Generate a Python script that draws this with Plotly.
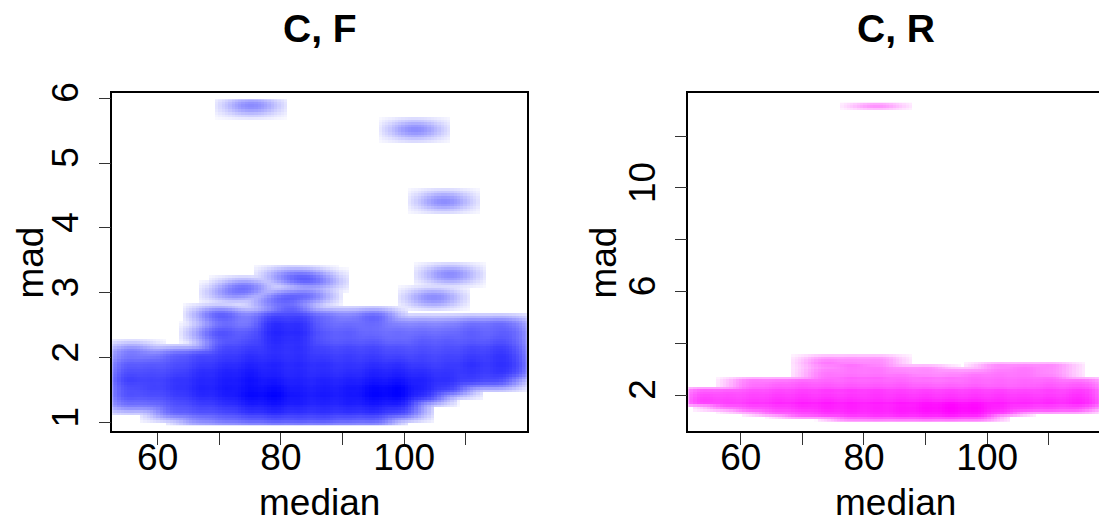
import numpy as np
import plotly.graph_objects as go

# ---------------- Panel 1: "C, F" (median vs mad), binned counts ----------------
cf_bin_x = [55.2, 59, 63, 67, 71, 75, 79, 83, 87, 91, 95, 99, 103, 107, 111, 115, 117.4]
cf_bin_y = [1.06, 1.18, 1.30, 1.42, 1.54, 1.66, 1.78, 1.90, 2.02, 2.14, 2.26, 2.38, 2.50, 2.62]
cf_counts = [
    [0, 0, 0, 1, 2, 3, 4, 4, 4, 3, 3, 0, 0, 0, 0, 0, 0],
    [0, 0, 3, 4, 5, 8, 10, 8, 8, 8, 9, 6, 0, 0, 0, 0, 0],
    [2, 2, 4, 6, 8, 12, 14, 11, 10, 11, 13, 12, 0, 0, 0, 0, 0],
    [4, 4, 6, 9, 11, 16, 18, 12, 12, 12, 17, 18, 8, 0, 0, 0, 0],
    [4, 5, 7, 10, 12, 14, 15, 11, 11, 12, 16, 18, 10, 6, 0, 0, 0],
    [6, 5, 7, 9, 11, 14, 12, 10, 10, 10, 12, 13, 10, 8, 6, 5, 0],
    [4, 4, 5, 8, 10, 12, 10, 9, 8, 8, 10, 10, 8, 7, 7, 6, 4],
    [3, 3, 4, 6, 8, 10, 10, 9, 8, 7, 8, 8, 6, 6, 8, 6, 5],
    [1, 1, 3, 5, 6, 8, 8, 8, 6, 6, 6, 5, 5, 5, 6, 6, 4],
    [0, 0, 0, 0, 5, 6, 8, 8, 5, 5, 5, 4, 4, 4, 5, 5, 3],
    [0, 0, 0, 0, 3, 4, 9, 8, 3, 3, 3, 2, 3, 3, 3, 3, 2],
    [0, 0, 0, 0, 3, 3, 10, 9, 3, 3, 2, 2, 2, 2, 3, 2, 2],
    [0, 0, 0, 0, 2, 1, 9, 8, 2, 2, 2, 1, 1, 1, 2, 2, 1],
    [0, 0, 0, 0, 2, 1, 6, 6, 2, 1, 3, 0, 0, 0, 0, 0, 0],
]
cf_extra_x = [75.2, 101.8, 106.5, 107.4, 104.8, 55.8, 74.0, 72.5, 83.7, 81.5, 85.5, 81.0, 79.0, 84.0, 81.5, 70.0, 69.5]
cf_extra_y = [5.88, 5.51, 4.41, 3.28, 2.92, 2.09, 3.07, 3.00, 3.22, 3.25, 3.18, 2.91, 2.85, 2.95, 2.75, 2.66, 2.37]
cf_extra_n = [1, 1, 1, 1, 1, 1, 2, 1, 3, 1, 1, 3, 1, 2, 3, 2, 2]

# ---------------- Panel 2: "C, R" (median vs mad), binned counts ----------------
cr_bin_x = [54, 58, 62, 66, 70, 74, 78, 82, 86, 90, 94, 98, 102, 106, 110, 114, 116.3]
cr_bin_y = [1.08, 1.20, 1.32, 1.44, 1.56, 1.68, 1.80, 1.92, 2.04, 2.16, 2.28, 2.40,
            2.52, 2.64, 2.76, 2.88, 3.00, 3.12, 3.24, 3.36]
cr_counts = [
    [0, 0, 0, 0, 0, 0, 3, 4, 4, 5, 5, 4, 0, 0, 0, 0, 0],
    [0, 0, 0, 0, 3, 5, 7, 8, 9, 10, 12, 10, 0, 0, 0, 0, 0],
    [0, 0, 0, 4, 6, 10, 12, 12, 14, 16, 20, 18, 8, 0, 0, 0, 0],
    [0, 0, 4, 7, 10, 14, 14, 14, 16, 20, 24, 22, 12, 7, 6, 5, 0],
    [0, 5, 7, 9, 12, 14, 14, 13, 14, 18, 22, 20, 13, 9, 8, 7, 4],
    [6, 6, 8, 10, 12, 13, 12, 12, 13, 14, 16, 15, 12, 10, 10, 9, 6],
    [8, 7, 8, 10, 11, 12, 11, 11, 11, 12, 12, 12, 11, 10, 11, 10, 7],
    [7, 6, 7, 9, 10, 10, 10, 10, 10, 10, 10, 10, 10, 9, 9, 9, 6],
    [5, 5, 6, 7, 8, 8, 8, 9, 8, 8, 8, 8, 8, 7, 7, 7, 5],
    [3, 3, 4, 5, 6, 7, 7, 7, 6, 6, 6, 6, 6, 5, 6, 5, 4],
    [0, 0, 3, 4, 5, 5, 5, 5, 5, 4, 4, 5, 4, 4, 5, 4, 3],
    [0, 0, 2, 3, 4, 4, 4, 4, 4, 3, 3, 3, 3, 3, 4, 3, 2],
    [0, 0, 2, 2, 3, 3, 3, 3, 3, 2, 2, 3, 3, 3, 3, 2, 1],
    [0, 0, 0, 0, 0, 2, 3, 3, 2, 2, 2, 2, 2, 2, 2, 0, 0],
    [0, 0, 0, 0, 0, 2, 2, 2, 2, 1, 1, 2, 2, 2, 1, 0, 0],
    [0, 0, 0, 0, 0, 2, 2, 2, 1, 1, 1, 1, 2, 2, 1, 0, 0],
    [0, 0, 0, 0, 0, 1, 2, 2, 1, 1, 0, 0, 1, 2, 1, 0, 0],
    [0, 0, 0, 0, 0, 1, 2, 1, 0, 0, 0, 0, 1, 1, 1, 0, 0],
    [0, 0, 0, 0, 0, 2, 1, 1, 0, 0, 0, 0, 0, 0, 0, 0, 0],
    [0, 0, 0, 0, 0, 1, 1, 1, 0, 0, 0, 0, 0, 0, 0, 0, 0],
]
cr_extra_x = [82.0]
cr_extra_y = [13.17]
cr_extra_n = [1]

# tick labels
x_tickvals = [60, 70, 80, 90, 100, 110]
x_ticktext = ["60", "", "80", "", "100", ""]
cf_y_tickvals = [1, 2, 3, 4, 5, 6]
cf_y_ticktext = ["1", "2", "3", "4", "5", "6"]
cr_y_tickvals = [2, 4, 6, 8, 10, 12]
cr_y_ticktext = ["2", "", "6", "", "10", ""]


def expand(bx, by, counts, ex, ey, en):
    xs, ys, ws = [], [], []
    for i, row in enumerate(counts):
        for j, c in enumerate(row):
            if c > 0:
                xs.append(bx[j]); ys.append(by[i]); ws.append(c)
    xs += list(ex); ys += list(ey); ws += list(en)
    return np.array(xs, float), np.array(ys, float), np.array(ws, float)


def smooth_density(px, py, pw, bw, n=128, tau=3.4):
    """Binned 2D kernel density (linear binning + truncated gaussian), like bkde2D."""
    ax0, ax1 = px.min() - 1.5 * bw[0], px.max() + 1.5 * bw[0]
    ay0, ay1 = py.min() - 1.5 * bw[1], py.max() + 1.5 * bw[1]
    gx = np.linspace(ax0, ax1, n)
    gy = np.linspace(ay0, ay1, n)
    dx, dy = gx[1] - gx[0], gy[1] - gy[0]
    grid = np.zeros((n, n))
    fx = (px - ax0) / dx
    fy = (py - ay0) / dy
    ix = np.floor(fx).astype(int)
    iy = np.floor(fy).astype(int)
    rx = fx - ix
    ry = fy - iy
    for k in range(len(px)):
        for a, wa in ((ix[k], 1 - rx[k]), (ix[k] + 1, rx[k])):
            for b, wb in ((iy[k], 1 - ry[k]), (iy[k] + 1, ry[k])):
                if 0 <= a < n and 0 <= b < n:
                    grid[a, b] += pw[k] * wa * wb
    Lx = max(int(np.floor(tau * bw[0] / dx)), 0)
    Ly = max(int(np.floor(tau * bw[1] / dy)), 0)
    kx = np.exp(-0.5 * ((np.arange(-Lx, Lx + 1) * dx) / bw[0]) ** 2)
    ky = np.exp(-0.5 * ((np.arange(-Ly, Ly + 1) * dy) / bw[1]) ** 2)
    tmp = np.apply_along_axis(lambda v: np.convolve(v, kx, mode="same"), 0, grid)
    dens = np.apply_along_axis(lambda v: np.convolve(v, ky, mode="same"), 1, tmp)
    dens = np.clip(dens, 0, None)
    return gx, gy, dens.T ** 0.25


p1 = expand(cf_bin_x, cf_bin_y, cf_counts, cf_extra_x, cf_extra_y, cf_extra_n)
p2 = expand(cr_bin_x, cr_bin_y, cr_counts, cr_extra_x, cr_extra_y, cr_extra_n)
gx1, gy1, z1 = smooth_density(*p1, bw=(1.70, 0.055))
gx2, gy2, z2 = smooth_density(*p2, bw=(1.65, 0.050))

W, H = 1099, 523
FONT = "Liberation Sans, Arial, Helvetica, sans-serif"
FS = 37

fig = go.Figure()
fig.add_trace(go.Heatmap(x=gx1, y=gy1, z=z1, zmin=0, zmax=float(z1.max()),
                         colorscale=[[0, "#FFFFFF"], [1, "#0000FF"]], showscale=False,
                         zsmooth=False, hoverinfo="skip", xaxis="x", yaxis="y"))
fig.add_trace(go.Heatmap(x=gx2, y=gy2, z=z2, zmin=0, zmax=float(z2.max()),
                         colorscale=[[0, "#FFFFFF"], [1, "#FF00FF"]], showscale=False,
                         zsmooth=False, hoverinfo="skip", xaxis="x2", yaxis="y2"))

def px2fx(p):
    return p / W

def py2fy(p):
    return 1 - p / H

top, bot = 84, 429.5
ydom = [py2fy(bot), py2fy(top)]
axis_common = dict(showgrid=False, zeroline=False, showline=True, linecolor="black",
                   linewidth=1.5, ticks="outside", ticklen=12, tickwidth=1,
                   tickcolor="#333333", tickfont=dict(family=FONT, size=FS, color="black"))

fig.update_layout(
    width=W, height=H, margin=dict(l=0, r=0, t=0, b=0),
    paper_bgcolor="white", plot_bgcolor="white", showlegend=False,
    xaxis=dict(domain=[px2fx(112.3), px2fx(526.8)], range=[52.64, 119.9], anchor="y",
               tickvals=x_tickvals, ticktext=x_ticktext, mirror=True,
               ticklabelstandoff=-20, **axis_common),
    yaxis=dict(domain=ydom, range=[0.864, 6.075], anchor="x",
               tickvals=cf_y_tickvals, ticktext=cf_y_ticktext, tickangle=-90,
               mirror=True, ticklabelstandoff=6, **axis_common),
    xaxis2=dict(domain=[px2fx(688.4), 1.0], range=[51.5, 51.5 + (1099 - 688.4) / 6.16],
                anchor="y2", tickvals=x_tickvals, ticktext=x_ticktext, mirror=True,
                ticklabelstandoff=-20, **axis_common),
    yaxis2=dict(domain=ydom, range=[0.594, 13.66], anchor="x2",
                tickvals=cr_y_tickvals, ticktext=cr_y_ticktext, tickangle=-90,
                mirror=False, ticklabelstandoff=5, **axis_common),
)

ann = []
for cx, t in ((319.5, "C, F"), (895.6, "C, R")):
    ann.append(dict(x=px2fx(cx), y=py2fy(18), xref="paper", yref="paper", text="<b>%s</b>" % t,
                    showarrow=False, xanchor="center", yanchor="middle",
                    font=dict(family=FONT, size=39, color="black")))
for cx in (319.5, 895.6):
    ann.append(dict(x=px2fx(cx), y=py2fy(525), xref="paper", yref="paper", text="median",
                    showarrow=False, xanchor="center", yanchor="bottom",
                    font=dict(family=FONT, size=FS, color="black")))
for cx in (31, 604):
    ann.append(dict(x=px2fx(cx), y=py2fy(257), xref="paper", yref="paper", text="mad",
                    textangle=-90, showarrow=False, xanchor="center", yanchor="middle",
                    font=dict(family=FONT, size=FS, color="black")))
fig.update_layout(annotations=ann)

fig.write_html("out.html")
